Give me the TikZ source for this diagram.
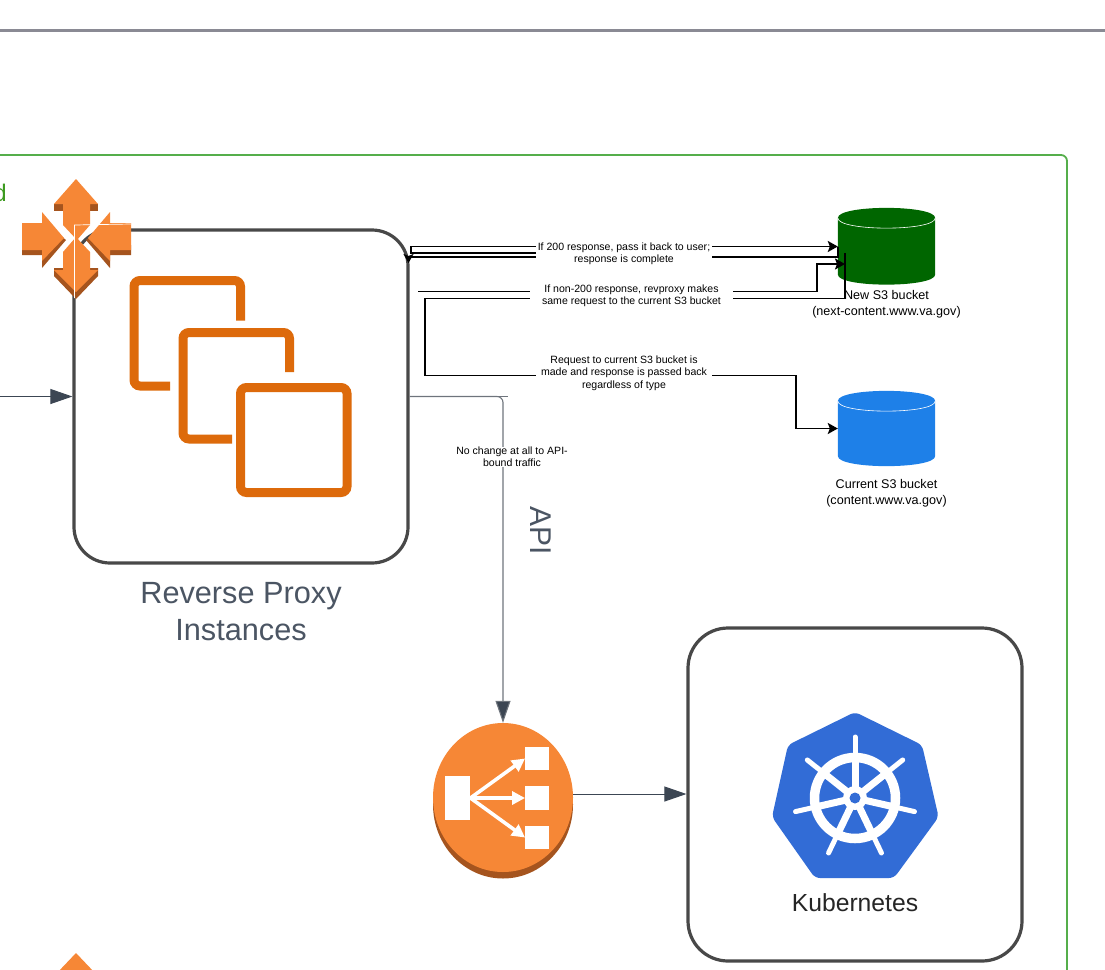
\documentclass[tikz,border=0pt]{standalone}
\usepackage{fontspec}
\setmainfont{Liberation Sans}
\usetikzlibrary{arrows.meta,calc}
\definecolor{frameg}{HTML}{55AE4B}
\definecolor{gtext}{HTML}{3C9A1E}
\definecolor{topgray}{HTML}{8A8A94}
\definecolor{boxline}{HTML}{484848}
\definecolor{slate}{HTML}{3C4653}
\definecolor{apigray}{HTML}{6E747C}
\definecolor{labgray}{HTML}{4B5563}
\definecolor{awsor}{HTML}{F68736}
\definecolor{awsdk}{HTML}{A5541E}
\definecolor{ec2or}{HTML}{DD6A0B}
\definecolor{k8sblue}{HTML}{326CD6}
\definecolor{bktg}{HTML}{006600}
\definecolor{bktb}{HTML}{1E80E8}
\tikzset{
  x=1pt,y=-1pt,
  frame/.style={draw=boxline,line width=3.2pt,rounded corners=36pt,fill=white,minimum width=334pt,minimum height=333pt,inner sep=0pt},
  flowline/.style={draw=black,line width=1.9pt},
  flowarrow/.style={flowline,-{Stealth[length=10pt,width=11pt,inset=2pt]}},
  slatearrow/.style={draw=slate,line width=1pt,-{Triangle[length=22pt,width=15pt,fill=slate]}},
  note/.style={fill=white,inner sep=0pt,align=center,font=\fontsize{10.55}{12.2}\selectfont,text=black},
  bucketbox/.style={inner sep=0pt,minimum width=97pt,minimum height=77pt},
  bucketlabel/.style={align=center,inner sep=0pt,font=\fontsize{12.6}{16}\selectfont,text=black},
  ec2/.style={draw=ec2or,line width=9pt,rounded corners=6pt},
  awsface/.style={fill=awsor,draw=none},
  awsshade/.style={fill=awsdk,draw=none},
  elbarrow/.style={draw=white,line width=3.6pt,-{Triangle[length=13pt,width=13pt,fill=white]}},
  elbbox/.style={fill=white,draw=none,inner sep=0pt},
}
\newcommand{\bucketdraw}[2]{%
  \fill[#2] (#1.west |- 0,\BT) .. controls (#1.west |- 0,\BU) and (#1.east |- 0,\BU) .. (#1.east |- 0,\BT)
    -- (#1.east |- 0,\BL) .. controls (#1.east |- 0,\BD) and (#1.west |- 0,\BD) .. (#1.west |- 0,\BL) -- cycle;
  \draw[white,line width=0.6pt] (#1.west |- 0,\BT) .. controls (#1.west |- 0,\BV) and (#1.east |- 0,\BV) .. (#1.east |- 0,\BT);
}
\begin{document}
\begin{tikzpicture}
\useasboundingbox (0,0) rectangle (1105,969);
% frame and top rule
\draw[topgray,line width=2.6pt] (0,30.5) -- (1105,30.5);
\draw[frameg,line width=1.8pt,rounded corners=6pt] (-20,155) -- (1067,155) -- (1067,990);
\node[anchor=base east,inner sep=0pt,text=gtext,font=\fontsize{24}{28}\selectfont] (dletter) at (7,201) {d};

% main boxes
\node[frame] (rp) at (241,396.5) {};
\node[frame,rounded corners=40pt] (kube) at (855,794.5) {};
\coordinate (incoming) at (0,396.5);
\draw[slatearrow] (incoming) -- (rp.west);

% router icon
\fill[awsshade] (22,245) -- (22,255) -- (42,255) -- (42,268) -- (66,240) -- (60,235) -- cycle;
\fill[awsshade] (131,245) -- (131,255) -- (110,255) -- (110,268) -- (86,240) -- (92,235) -- cycle;
\fill[awsshade] (54,204) -- (54,211) -- (98,211) -- (98,204) -- cycle;
\fill[awsshade] (54,268) -- (54,276) -- (76,299) -- (98,276) -- (98,268) -- cycle;
\fill[awsface] (76,179) -- (98,204) -- (90,204) -- (90,225) -- (77,240) -- (63,225) -- (63,204) -- (54,204) -- cycle;
\fill[awsface] (63,252) -- (76,237) -- (90,252) -- (90,270) -- (98,270) -- (76,292) -- (54,270) -- (63,270) -- cycle;
\fill[awsface] (22,223) -- (42,223) -- (42,212) -- (64,238) -- (42,261) -- (42,250) -- (22,250) -- cycle;
\fill[awsface] (131,223) -- (110,223) -- (110,212) -- (88,238) -- (110,261) -- (110,250) -- (131,250) -- cycle;
\draw[white,line width=0.7pt] (74.5,298) -- (74.5,225) -- (131,224);

% EC2 instances icon
\draw[ec2] (240.5,320.5) -- (240.5,280.5) -- (134,280.5) -- (134,386) -- (170,386);
\draw[ec2] (289.5,372) -- (289.5,332.5) -- (183,332.5) -- (183,439) -- (232,439);
\draw[ec2] (240.5,387.5) rectangle (347,492.5);

\node[align=center,inner sep=0pt,text=labgray,font=\fontsize{30.7}{37}\selectfont] (rplabel) at (241,611.5) {Reverse Proxy\\Instances};

% buckets
\node[bucketbox] (newb) at (886.5,246.5) {};
\node[bucketbox] (curb) at (886.5,428.5) {};
\def\BT{218}\def\BU{204.5}\def\BV{231.5}\def\BL{274.5}\def\BD{288}
\bucketdraw{newb}{bktg}
\def\BT{401}\def\BU{387.5}\def\BV{414.5}\def\BL{456}\def\BD{469.5}
\bucketdraw{curb}{bktb}
\node[bucketlabel] (newlab) at (886.5,304) {New S3 bucket\\(next-content.www.va.gov)};
\node[bucketlabel] (curlab) at (886.5,493) {Current S3 bucket\\(content.www.va.gov)};

% connector waypoints
\coordinate (a0) at (560,253);
\coordinate (a1) at (411,253);
\coordinate (a2) at (411,246.5);
\coordinate (b2) at (newb.west |- 0,257);
\coordinate (b3) at (408.5,257);
\coordinate (b4) at (408.5,263);
\coordinate (c1) at (418,291.5);
\coordinate (c2) at (817,291.5);
\coordinate (c3) at (817,264);
\coordinate (c4) at (845,264);
\coordinate (d1) at (845,253);
\coordinate (d2) at (845,298.5);
\coordinate (d3) at (425,298.5);
\coordinate (d4) at (425,375.5);
\coordinate (d5) at (796,375.5);
\coordinate (d6) at (796,428.5);
\coordinate (stub) at (508,396.5);

\draw[flowarrow] (a0) -- (a1) -- (a2) -- (newb.west |- a2);
\draw[flowline,-{Stealth[length=9pt,width=10pt,inset=2pt]}] (newb.west |- a2) -- (b2) -- (b3) -- (b4);
\draw[flowarrow] (c1) -- (c2) -- (c3) -- (c4);
\draw[flowarrow] (d1) -- (d2) -- (d3) -- (d4) -- (d5) -- (d6) -- (curb.west);

% load balancer
\fill[awsdk] (503,804.5) ellipse [x radius=70,y radius=74];
\fill[awsor] (503,797.5) ellipse [x radius=70,y radius=74.5];
\node[inner sep=0pt,minimum width=140pt,minimum height=149pt] (elb) at (503,797.5) {};
\node[elbbox,minimum width=25.5pt,minimum height=44pt] (lbin) at (457.5,798) {};
\node[elbbox,minimum width=23.5pt,minimum height=23.5pt] (lb1) at (537,758.5) {};
\node[elbbox,minimum width=23.5pt,minimum height=23.5pt] (lb2) at (537,798) {};
\node[elbbox,minimum width=23.5pt,minimum height=23.5pt] (lb3) at (537,837.5) {};
\draw[elbarrow] (lbin.east) -- (lb1.west);
\draw[elbarrow] (lbin.east) -- (lb2.west);
\draw[elbarrow] (lbin.east) -- (lb3.west);

% API connector
\draw[apigray,line width=1.1pt] (rp.east) -- (stub);
\draw[draw=apigray,line width=1.1pt,rounded corners=6pt,-{Triangle[length=22pt,width=15pt,fill=slate]}] (rp.east) -| (elb.north);
\coordinate (kin) at (kube.west |- 0,794);
\draw[slatearrow] (elb.east |- kin) -- (kin);

% labels on connectors
\node[note,minimum width=176pt,minimum height=24pt] (n1) at (624,253.5) {If 200 response, pass it back to user;\\response is complete};
\node[note,minimum width=203pt,minimum height=24pt] (n2) at (631.5,296) {If non-200 response, revproxy makes\\same request to the current S3 bucket};
\node[note,minimum width=176pt,minimum height=38pt,font=\fontsize{10.55}{12.6}\selectfont] (n3) at (624,373) {Request to current S3 bucket is\\made and response is passed back\\regardless of type};
\node[note] (n4) at (512,457) {No change at all to API-\\bound traffic};
\node[rotate=-90,inner sep=0pt,text=labgray,font=\fontsize{30}{32}\selectfont] (apilab) at (541,531) {API};

% kubernetes logo
\fill[k8sblue,rounded corners=5pt] (855,712) -- (922,745) -- (938.6,817) -- (894,878) -- (815,878) -- (772,817) -- (788,745) -- cycle;
\coordinate (hub) at (855,798);
\foreach \ang in {-90,-141.43,-192.86,-244.29,-295.71,-347.14,-38.57}{
  \draw[white,line width=5pt,line cap=round] ($(hub)+(\ang:44)$) -- ($(hub)+(\ang:61)$);
  \draw[white,line width=7pt] (hub) -- ($(hub)+(\ang:42)$);
}
\draw[white,line width=9.5pt] (hub) circle [radius=40.5];
\fill[white] (hub) circle [radius=12];
\fill[k8sblue] (hub) circle [radius=5.5];
\node[inner sep=0pt,text=black!85,font=\fontsize{24.7}{28}\selectfont] (kubelab) at (855,903) {Kubernetes};

% cropped icon at the bottom
\fill[awsface] (76,953) -- (95,973) -- (57,973) -- cycle;
\end{tikzpicture}
\end{document}
